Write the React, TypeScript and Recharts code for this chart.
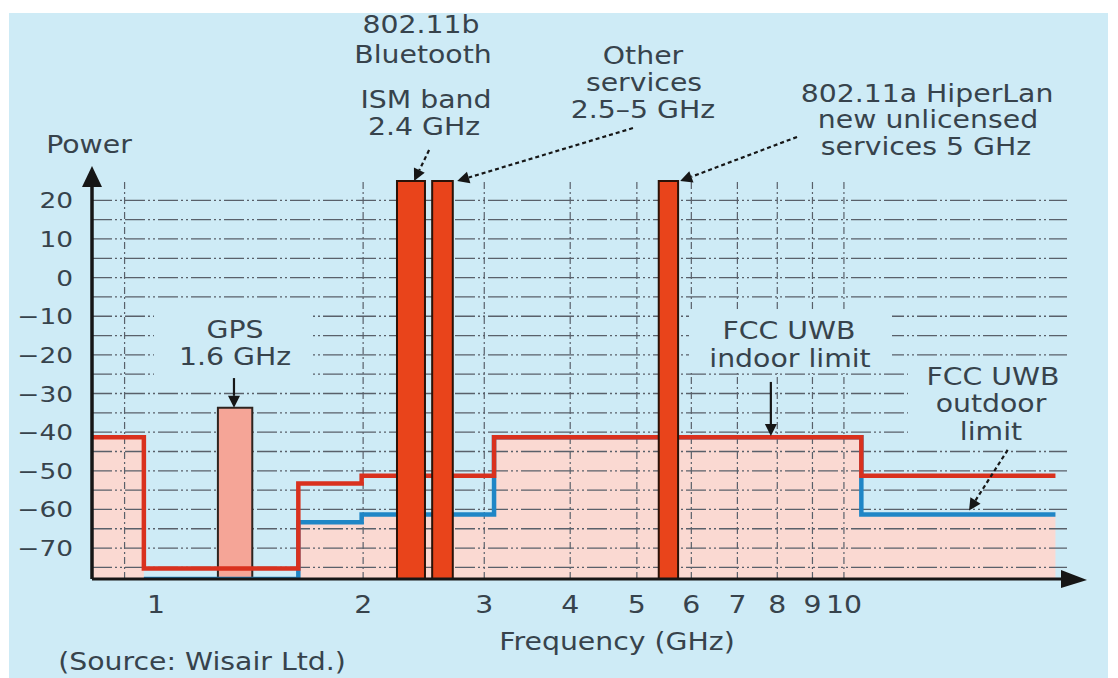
import React from 'react';
import {
  ComposedChart,
  Area,
  Line,
  XAxis,
  YAxis,
  ReferenceLine,
  ReferenceArea,
  ReferenceDot,
} from 'recharts';

// ---------- data ----------
const FREQ_DOMAIN: [number, number] = [0.807, 21.1];
const POWER_DOMAIN: [number, number] = [-78, 25];

const xTickValues = [1, 2, 3, 4, 5, 6, 7, 8, 9, 10];
const yTickValues = [20, 10, 0, -10, -20, -30, -40, -50, -60, -70];
const xGridValues = [0.9, 2, 3, 4, 5, 6, 7, 8, 9, 10];
const yGridValues = [20, 15, 10, 5, 0, -5, -10, -15, -20, -25, -30, -35, -40, -45, -50, -55, -60, -65, -70, -75];

// FCC UWB indoor limit (GHz, dBm)
const indoorFreq = [0.807, 0.96, 1.61, 1.99, 3.1, 10.6, 20.3];
const indoorPower = [-41.3, -75.3, -53.3, -51.3, -41.3, -51.3, -51.3];
// FCC UWB outdoor limit
const outdoorFreq = [0.96, 1.61, 1.99, 3.1, 10.6, 20.3];
const outdoorPower = [-78, -63.3, -61.3, -41.3, -61.3, -61.3];
// shaded region (below both limits)
const shadeFreq = [0.807, 0.96, 1.61, 1.99, 3.1, 10.6, 20.3];
const shadePower = [-41.3, -78, -63.3, -61.3, -41.3, -61.3, -61.3];

// services
const gpsBand = { f1: 1.23, f2: 1.38, power: -33.7 };
const serviceBands = [
  { name: 'ISM 2.4 GHz', f1: 2.24, f2: 2.46, power: 25 },
  { name: 'Other services', f1: 2.52, f2: 2.7, power: 25 },
  { name: '802.11a HiperLan', f1: 5.38, f2: 5.74, power: 25 },
];

// pointer arrows (from -> to), in GHz / dBm
const pointers = [
  { from: [2.494, 33.0], to: [2.372, 25.0], dashed: true },
  { from: [4.935, 38.7], to: [2.74, 25.0], dashed: true },
  { from: [8.547, 36.4], to: [5.78, 25.0], dashed: true },
  { from: [1.298, -26.0], to: [1.298, -33.7], dashed: false },
  { from: [7.83, -27.0], to: [7.83, -41.0], dashed: false },
  { from: [17.3, -44.6], to: [15.2, -60.3], dashed: true },
];

const indoorData = indoorFreq.map((f, i) => ({ f, p: indoorPower[i] }));
const outdoorData = outdoorFreq.map((f, i) => ({ f, p: outdoorPower[i] }));
const shadeData = shadeFreq.map((f, i) => ({ f, p: shadePower[i] }));

// ---------- style ----------
const BG = '#ceebf6';
const TEXT = '#37434c';
const FONT = 'DejaVu Sans';
const GRID = '#59606a';

const YTick = (props: any) => {
  const { x, y, payload } = props;
  const v = payload.value as number;
  const s = v < 0 ? '\u2212' + Math.abs(v) : String(v);
  return (
    <text
      transform={`translate(${x},${y + 8}) scale(1.2,1)`}
      textAnchor="end"
      fontFamily={FONT}
      fontSize={22}
      fill={TEXT}
    >
      {s}
    </text>
  );
};

const XTick = (props: any) => {
  const { x, y, payload } = props;
  return (
    <text
      transform={`translate(${x},${y + 34}) scale(1.18,1)`}
      textAnchor="middle"
      fontFamily={FONT}
      fontSize={24}
      fill={TEXT}
    >
      {payload.value}
    </text>
  );
};

const arrowShape = (dashed: boolean) => (props: any) => {
  const { x1, y1, x2, y2 } = props;
  const dx = x2 - x1;
  const dy = y2 - y1;
  const len = Math.hypot(dx, dy) || 1;
  const ux = dx / len;
  const uy = dy / len;
  const L = 12;
  const W = 6;
  const bx = x2 - ux * L;
  const by = y2 - uy * L;
  const pts = `${x2},${y2} ${bx - uy * W},${by + ux * W} ${bx + uy * W},${by - ux * W}`;
  return (
    <g>
      <line
        x1={x1}
        y1={y1}
        x2={bx}
        y2={by}
        stroke="#161616"
        strokeWidth={2.2}
        strokeDasharray={dashed ? '4 3' : undefined}
      />
      <polygon points={pts} fill="#161616" />
    </g>
  );
};

const yArrow = (props: any) => {
  const { cx, cy } = props;
  return (
    <g>
      <line x1={cx} y1={cy + 2} x2={cx} y2={cy - 6} stroke="#161616" strokeWidth={3.5} />
      <polygon points={`${cx},${cy - 15} ${cx - 10},${cy + 6} ${cx + 10},${cy + 6}`} fill="#161616" />
    </g>
  );
};

const xArrow = (props: any) => {
  const { cx, cy } = props;
  return (
    <g>
      <polygon points={`${cx - 6},${cy - 9} ${cx + 20},${cy + 1} ${cx - 6},${cy + 9}`} fill="#161616" />
    </g>
  );
};

type TxtProps = { cx: number; base: number; text: string; size?: number; sx?: number };
const Txt = ({ cx, base, text, size = 24, sx = 1.18 }: TxtProps) => (
  <div
    style={{
      position: 'absolute',
      left: cx,
      top: base - 0.846 * size,
      fontFamily: FONT,
      fontSize: size,
      lineHeight: `${size}px`,
      color: TEXT,
      whiteSpace: 'nowrap',
      transform: `translateX(-50%) scaleX(${sx})`,
    }}
  >
    {text}
  </div>
);

// label layout (pixels)
const labels: TxtProps[] = [
  { cx: 89, base: 153, text: 'Power' },
  { cx: 421, base: 33, text: '802.11b' },
  { cx: 423, base: 63, text: 'Bluetooth' },
  { cx: 426, base: 108, text: 'ISM band' },
  { cx: 424, base: 135, text: '2.4 GHz' },
  { cx: 643, base: 64, text: 'Other' },
  { cx: 644, base: 91, text: 'services' },
  { cx: 643, base: 118, text: '2.5\u20135 GHz' },
  { cx: 927, base: 102, text: '802.11a HiperLan' },
  { cx: 928, base: 128, text: 'new unlicensed' },
  { cx: 926, base: 155, text: 'services 5 GHz' },
  { cx: 235, base: 338, text: 'GPS' },
  { cx: 235, base: 365, text: '1.6 GHz' },
  { cx: 789, base: 339, text: 'FCC UWB' },
  { cx: 790, base: 367, text: 'indoor limit' },
  { cx: 993, base: 385, text: 'FCC UWB' },
  { cx: 991, base: 412, text: 'outdoor' },
  { cx: 991, base: 440, text: 'limit' },
  { cx: 617, base: 650, text: 'Frequency (GHz)' },
  { cx: 202, base: 670, text: '(Source: Wisair Ltd.)' },
];

const masks = [
  { left: 154, top: 307, width: 157, height: 70 },
  { left: 689, top: 309, width: 203, height: 64 },
  { left: 908, top: 362, width: 170, height: 80 },
];

export default function App() {
  return (
    <div style={{ position: 'absolute', left: 0, top: 0, width: 1118, height: 678, background: '#ffffff', overflow: 'hidden' }}>
      <div style={{ position: 'absolute', left: 9, top: 13, width: 1099, height: 665, background: BG }} />
      <div style={{ position: 'absolute', left: 0, top: 0 }}>
        <ComposedChart width={1118} height={678} margin={{ top: 181, right: 51, bottom: 59, left: 0 }}>
          <XAxis
            dataKey="f"
            type="number"
            scale="log"
            domain={FREQ_DOMAIN}
            allowDataOverflow
            ticks={xTickValues}
            interval={0}
            tickSize={0}
            tickLine={false}
            tickMargin={0}
            height={40}
            tick={<XTick />}
            axisLine={{ stroke: '#161616', strokeWidth: 3 }}
          />
          <YAxis
            dataKey="p"
            type="number"
            domain={POWER_DOMAIN}
            allowDataOverflow
            ticks={yTickValues}
            interval={0}
            tickSize={0}
            tickLine={false}
            tickMargin={19}
            width={92}
            tick={<YTick />}
            axisLine={{ stroke: '#161616', strokeWidth: 3.5 }}
          />
          <Area
            data={shadeData}
            dataKey="p"
            type="stepAfter"
            baseValue={POWER_DOMAIN[0]}
            stroke="none"
            fill="#fad9d2"
            fillOpacity={1}
            isAnimationActive={false}
            zIndex={100}
          />
          {yGridValues.map((v) => (
            <ReferenceLine
              key={'gy' + v}
              y={v}
              stroke={GRID}
              strokeWidth={1.3}
              strokeDasharray="20 3 2 3 2 3"
              zIndex={150}
            />
          ))}
          {xGridValues.map((f) => (
            <ReferenceLine
              key={'gx' + f}
              x={f}
              stroke={GRID}
              strokeWidth={1.2}
              strokeDasharray="7 3 2 3"
              zIndex={150}
            />
          ))}
          <ReferenceArea
            x1={gpsBand.f1}
            x2={gpsBand.f2}
            y1={POWER_DOMAIN[0]}
            y2={gpsBand.power}
            fill="#f5a597"
            fillOpacity={1}
            stroke="#2e2420"
            strokeWidth={2}
            ifOverflow="visible"
            zIndex={200}
          />
          <Line
            data={outdoorData}
            dataKey="p"
            type="stepAfter"
            stroke="#1f86c6"
            strokeWidth={4.5}
            dot={false}
            isAnimationActive={false}
            zIndex={300}
          />
          <Line
            data={indoorData}
            dataKey="p"
            type="stepAfter"
            stroke="#d9311e"
            strokeWidth={4.5}
            dot={false}
            isAnimationActive={false}
            zIndex={310}
          />
          {serviceBands.map((b) => (
            <ReferenceArea
              key={b.name}
              x1={b.f1}
              x2={b.f2}
              y1={POWER_DOMAIN[0]}
              y2={b.power}
              fill="#e9441b"
              fillOpacity={1}
              stroke="#2a1208"
              strokeWidth={2}
              ifOverflow="visible"
              zIndex={350}
            />
          ))}
          {pointers.map((p, i) => (
            <ReferenceLine
              key={'pt' + i}
              segment={[
                { x: p.from[0], y: p.from[1] },
                { x: p.to[0], y: p.to[1] },
              ]}
              ifOverflow="visible"
              shape={arrowShape(p.dashed)}
              zIndex={600}
            />
          ))}
          <ReferenceDot x={FREQ_DOMAIN[0]} y={POWER_DOMAIN[1]} ifOverflow="visible" shape={yArrow} zIndex={700} />
          <ReferenceDot x={FREQ_DOMAIN[1]} y={POWER_DOMAIN[0]} ifOverflow="visible" shape={xArrow} zIndex={700} />
        </ComposedChart>
      </div>
      {masks.map((m, i) => (
        <div key={'m' + i} style={{ position: 'absolute', left: m.left, top: m.top, width: m.width, height: m.height, background: BG }} />
      ))}
      {labels.map((l, i) => (
        <Txt key={'t' + i} {...l} />
      ))}
    </div>
  );
}
